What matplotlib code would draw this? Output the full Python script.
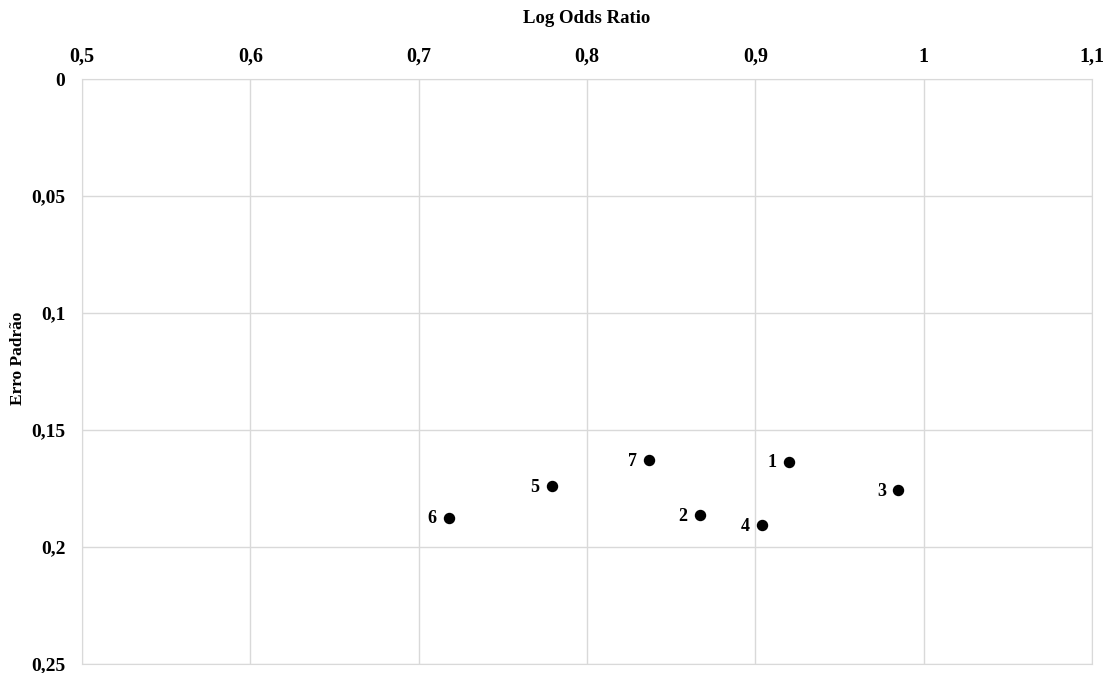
import matplotlib
matplotlib.use("Agg")
import matplotlib.pyplot as plt
from matplotlib.ticker import FuncFormatter

# estudos (rotulos), log odds ratio e erro padrao
labels = ["1", "2", "3", "4", "5", "6", "7"]
log_or = [0.920, 0.867, 0.985, 0.904, 0.779, 0.718, 0.837]
erro_padrao = [0.1635, 0.1865, 0.1755, 0.1908, 0.1738, 0.1874, 0.1627]

x_ticks = [0.5, 0.6, 0.7, 0.8, 0.9, 1.0, 1.1]
y_ticks = [0, 0.05, 0.1, 0.15, 0.2, 0.25]

plt.rcParams['font.family'] = ['Liberation Serif', 'DejaVu Serif']
plt.rcParams['font.weight'] = 'bold'

fig = plt.figure(figsize=(11.04, 6.73), dpi=100)
ax = fig.add_axes([0.0743, 0.0134, 0.9148, 0.8692])

ax.scatter(log_or, erro_padrao, s=52, color='black', zorder=3)
for lab, x, y in zip(labels, log_or, erro_padrao):
    ax.annotate(lab, (x, y), xytext=(-9, -1), textcoords='offset points',
                ha='right', va='center', fontsize=13, fontweight='bold')

ax.set_xlim(0.5, 1.1)
ax.set_ylim(0.25, 0)
ax.set_xticks(x_ticks)
ax.set_yticks(y_ticks)

def virgula(v, pos):
    s = ('%.2f' % v).rstrip('0').rstrip('.')
    return s.replace('.', ',')

ax.xaxis.set_major_formatter(FuncFormatter(virgula))
ax.yaxis.set_major_formatter(FuncFormatter(virgula))
ax.xaxis.tick_top()
ax.xaxis.set_label_position('top')
ax.tick_params(axis='x', length=0, labelsize=14.5, pad=9)
ax.tick_params(axis='y', length=0, labelsize=14, pad=12)
for t in ax.get_xticklabels() + ax.get_yticklabels():
    t.set_fontweight('bold')

ax.grid(True, color='#d9d9d9', linewidth=1)
ax.set_axisbelow(True)
for sp in ax.spines.values():
    sp.set_color('#d9d9d9')

ax.set_xlabel('Log Odds Ratio', fontsize=13.5, fontweight='bold', labelpad=17)
fig.text(18 / 1104, 1 - 358 / 673, 'Erro Padrão', rotation=90, ha='center',
         va='center', fontsize=12.5, fontweight='bold')

fig.savefig('out.png', dpi=100)
